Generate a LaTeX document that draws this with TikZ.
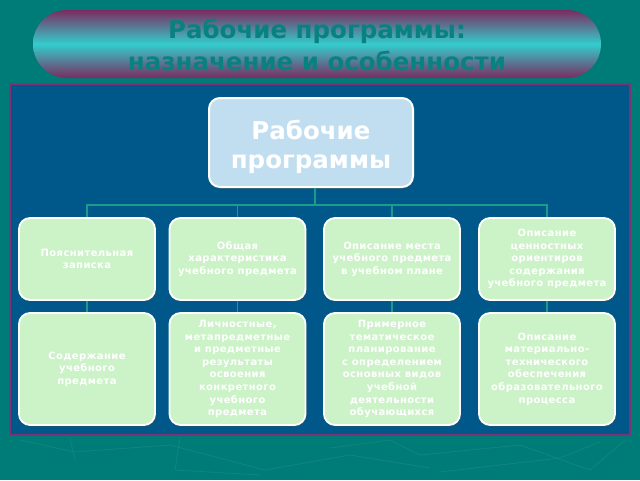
\documentclass[tikz,border=0pt]{standalone}
\usepackage{fontspec}
\setmainfont{DejaVu Sans}
\newfontfamily\boxfont[LetterSpace=4]{DejaVu Sans}
\usetikzlibrary{shadows}
\definecolor{bgteal}{RGB}{0,124,120}
\definecolor{pillend}{RGB}{122,44,96}
\definecolor{pillmid}{RGB}{52,204,204}
\definecolor{titletxt}{RGB}{8,130,128}
\definecolor{panelblue}{RGB}{0,88,138}
\definecolor{panelborder}{RGB}{128,50,120}
\definecolor{linkteal}{RGB}{26,156,140}
\definecolor{boxgreen}{RGB}{204,242,200}
\definecolor{mainblue}{RGB}{192,222,240}
\tikzset{
  shadowed/.style={drop shadow={opacity=0.55, fill=black!70, shadow xshift=1pt, shadow yshift=-1.5pt}},
  leafbox/.style={shadowed, draw=white, line width=1.8pt, fill=boxgreen, rounded corners=11pt,
     minimum width=136pt, inner sep=0pt, align=center, text=white,
     font=\boxfont\fontsize{10}{12.6}\selectfont\bfseries},
  rowone/.style={leafbox, minimum height=82pt},
  rowtwo/.style={leafbox, minimum height=112pt},
  mainbox/.style={shadowed, draw=white, line width=2pt, fill=mainblue, rounded corners=11pt,
     minimum width=204pt, minimum height=89pt},
  maintxt/.style={align=center, text=white, font=\fontsize{24.5}{29}\selectfont\bfseries},
  link/.style={draw=linkteal, line width=1.1pt}
}
\begin{document}
\begin{tikzpicture}[x=1pt,y=-1pt]
\useasboundingbox (0,0) rectangle (640,480);
\fill[bgteal] (0,0) rectangle (640,480);
% faint background pattern
\draw[white, opacity=0.08, line width=0.6pt]
  (20,440) -- (75,452) -- (170,445) -- (265,470) -- (350,455) -- (430,468)
  (70,438) -- (75,460) (180,438) -- (175,470) -- (260,475)
  (330,448) -- (390,440) -- (420,455) -- (520,445) -- (590,470) -- (625,440)
  (440,472) -- (560,458) -- (600,442);
% title pill
\shade[top color=pillend, bottom color=pillend, middle color=pillmid, rounded corners=34pt]
  (33,10) rectangle (601,78);
\node[text=titletxt, font=\fontsize{24.5}{32}\selectfont\bfseries, align=center] (title) at (317,45)
  {Рабочие программы:\\назначение и особенности};
% panel
\draw[panelborder, fill=panelblue, line width=2pt] (10,84) rectangle (630,435);
% main node
\node[mainbox] (main) at (311,142.5) {};
\node[maintxt] (maintext) at (311,147) {Рабочие\\программы};
% row one
\node[rowone] (a1) at (87,259) {Пояснительная\\записка};
\node[rowone] (a2) at (237.5,259) {Общая\\характеристика\\учебного предмета};
\node[rowone] (a3) at (392,259) {Описание места\\учебного предмета\\в учебном плане};
\node[rowone] (a4) at (547,259) {Описание\\ценностных\\ориентиров\\содержания\\учебного предмета};
% row two
\node[rowtwo] (b1) at (87,369) {Содержание\\учебного\\предмета};
\node[rowtwo] (b2) at (237.5,369) {Личностные,\\метапредметные\\и предметные\\результаты\\освоения\\конкретного\\учебного\\предмета};
\node[rowtwo] (b3) at (392,369) {Примерное\\тематическое\\планирование\\с определением\\основных видов\\учебной\\деятельности\\обучающихся};
\node[rowtwo] (b4) at (547,369) {Описание\\материально-\\технического\\обеспечения\\образовательного\\процесса};
% connectors
\coordinate (bus) at (315,205);
\draw[link] (main.south -| bus) -- (bus);
\draw[link] (a1.north) |- (bus) -| (a4.north);
\draw[link] (a2.north) -- (a2.north |- bus);
\draw[link] (a3.north) -- (a3.north |- bus);
\draw[link] (a1.south) -- (b1.north);
\draw[link] (a2.south) -- (b2.north);
\draw[link] (a3.south) -- (b3.north);
\draw[link] (a4.south) -- (b4.north);
\end{tikzpicture}
\end{document}
